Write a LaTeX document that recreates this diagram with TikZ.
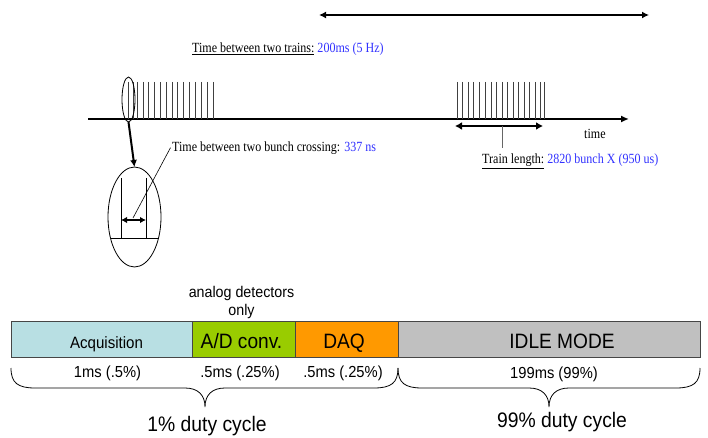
\documentclass[tikz,border=0pt]{standalone}
\usepackage{fontspec}
\setmainfont{Liberation Serif}
\newfontfamily\serifn[FakeStretch=0.86]{Liberation Serif}
\newfontfamily\sansn[FakeStretch=0.92]{Liberation Sans}
\usetikzlibrary{arrows.meta,shapes.geometric}
\definecolor{tblue}{RGB}{51,51,255}
\definecolor{acqc}{RGB}{184,223,227}
\definecolor{adc}{RGB}{153,204,0}
\definecolor{daqc}{RGB}{255,153,0}
\definecolor{idlec}{RGB}{192,192,192}
\definecolor{edgec}{RGB}{70,70,70}
\begin{document}
\begin{tikzpicture}[x=1pt,y=-1pt,
  toptext/.style={inner sep=0pt, anchor=base west, font=\serifn\fontsize{14}{16}\selectfont},
  bartext/.style={inner sep=0pt, anchor=base, font=\sansn\fontsize{20.8}{24}\selectfont},
  smalltext/.style={inner sep=0pt, anchor=base, font=\sansn\fontsize{16}{18}\selectfont},
  duty/.style={inner sep=0pt, anchor=base, font=\sansn\fontsize{21}{24}\selectfont},
  barbox/.style={draw=edgec, line width=0.9pt, inner sep=0pt, outer sep=0pt, minimum height=36},
  dblarrow/.style={line width=2pt, {Latex[length=7pt,width=7pt]}-{Latex[length=7pt,width=7pt]}},
  bunch/.style={black!75, line width=0.8pt},
  oval/.style={ellipse, draw, line width=0.8pt, inner sep=0pt, outer sep=0pt}]
\fill[white] (0,0) rectangle (708,438);
\useasboundingbox (0,0) rectangle (708,438);

% top double arrow (time between trains)
\coordinate (trL) at (319,15);
\coordinate (trR) at (649,15);
\draw[dblarrow] (trL) -- (trR);
\node[toptext] (trains) at (192,53) {\underline{Time between two trains:} \textcolor{tblue}{200ms (5 Hz)}};

% time axis
\coordinate (axL) at (88,119);
\coordinate (axR) at (629,119);
\draw[line width=2pt, -{Latex[length=8pt,width=7pt]}] (axL) -- (axR);
\node[toptext] (timelbl) at (584,139) {time};

% bunches
\foreach \x in {128,133,137,143,148,154,160,166,172,177,183,189,195,201,207,213}
  \draw[bunch] (\x,82) -- (\x,119);
\foreach \x in {457,462,468,473,479,485,491,496,502,507,513,518,524,529,535,540,544}
  \draw[bunch] (\x,82) -- (\x,119);

% train length
\coordinate (tlL) at (455,126);
\coordinate (tlR) at (543,126);
\draw[line width=2.5pt, {Latex[length=7pt,width=8pt]}-{Latex[length=7pt,width=8pt]}] (tlL) -- (tlR);
\coordinate (tickT) at (502,126);
\coordinate (tickB) at (502,148);
\draw[black!60, line width=0.9pt] (tickT) -- (tickB);
\node[toptext] (trainlen) at (482,164) {\underline{Train length:} \textcolor{tblue}{2820 bunch X (950 us)}};

% zoom ellipses
\node[oval, minimum width=13, minimum height=45] (sel) at (128.5,99.5) {};
\node[oval, minimum width=53, minimum height=100] (bel) at (134.5,217) {};
\draw[line width=2pt, -{Latex[length=7pt,width=7pt]}] (sel.south) -- (bel.north);
\coordinate (chL) at (110.5,238);
\coordinate (chR) at (158.5,238);
\draw[line width=0.9pt] (chL) -- (chR);
\coordinate (b1t) at (121,178);
\coordinate (b1b) at (121,238);
\coordinate (b2t) at (146,178);
\coordinate (b2b) at (146,238);
\draw[line width=1pt] (b1t) -- (b1b);
\draw[line width=1pt] (b2t) -- (b2b);
\coordinate (spL) at (121,220);
\coordinate (spR) at (146,220);
\draw[line width=2pt, {Latex[length=6pt,width=6.5pt]}-{Latex[length=6pt,width=6.5pt]}] (spL) -- (spR);
\node[toptext] (bxtext) at (172,152) {Time between two bunch crossing: \textcolor{tblue}{337 ns}};
\coordinate (leadS) at (133,218);
\draw[line width=0.6pt] (leadS) -- ([xshift=-1.5pt,yshift=1pt]bxtext.west);

% bar
\node[barbox, fill=acqc, minimum width=181] (acq) at (101.5,339) {};
\node[barbox, fill=adc, minimum width=103] (ad) at (243.5,339) {};
\node[barbox, fill=daqc, minimum width=103] (daq) at (346.5,339) {};
\node[barbox, fill=idlec, minimum width=302] (idle) at (549,339) {};
\node[bartext, font=\sansn\fontsize{16.4}{18}\selectfont] (acqt) at (106.5,348) {Acquisition};
\node[bartext] (adt) at (241.5,348) {A/D conv.};
\node[bartext] (daqt) at (344,348) {DAQ};
\node[bartext] (idlet) at (562,348) {IDLE MODE};
\node[smalltext, font=\sansn\fontsize{15.5}{18}\selectfont] (ana1) at (241.5,297) {analog detectors};
\node[smalltext, font=\sansn\fontsize{15.5}{18}\selectfont] (ana2) at (241.5,315) {only};
\node[smalltext] (t1) at (107.5,377) {1ms (.5\%)};
\node[smalltext] (t2) at (240,377) {.5ms (.25\%)};
\node[smalltext] (t3) at (343,377) {.5ms (.25\%)};
\node[smalltext] (t4) at (554,378) {199ms (99\%)};

% braces
\draw[line width=0.8pt] (11,368) .. controls (11,383) and (18,388) .. (35,388) -- (185,388)
  .. controls (198,388) and (205,395) .. (205,407)
  .. controls (205,395) and (212,388) .. (225,388) -- (374,388)
  .. controls (391,388) and (398,383) .. (398,368);
\draw[line width=0.8pt] (398,368) .. controls (398,383) and (405,388) .. (422,388) -- (529,388)
  .. controls (542,388) and (549,395) .. (549,407)
  .. controls (549,395) and (556,388) .. (569,388) -- (676,388)
  .. controls (693,388) and (700,383) .. (700,368);
\node[duty] (d1) at (207,431) {1\% duty cycle};
\node[duty] (d2) at (562,427) {99\% duty cycle};
\end{tikzpicture}
\end{document}
